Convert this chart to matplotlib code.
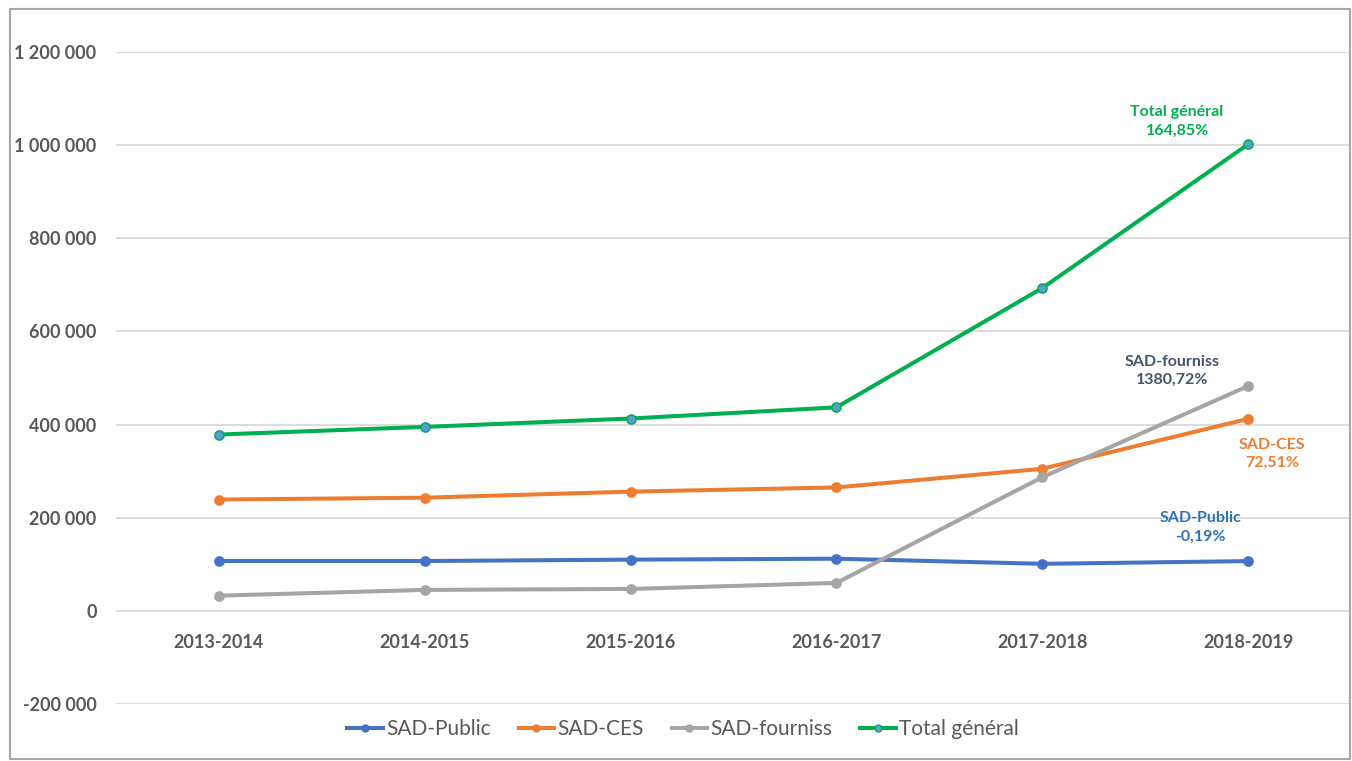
import matplotlib
matplotlib.use("Agg")
import matplotlib.pyplot as plt
from matplotlib.ticker import FuncFormatter, MultipleLocator
from matplotlib.patches import Rectangle
from matplotlib.lines import Line2D

# données
annees = ["2013-2014", "2014-2015", "2015-2016", "2016-2017", "2017-2018", "2018-2019"]
sad_public = [107000, 107000, 110000, 112000, 101000, 106800]
sad_ces = [239000, 243000, 256000, 265000, 305000, 412300]
sad_fourniss = [32600, 45000, 47000, 60000, 287000, 482700]
total_general = [378600, 395000, 413000, 437000, 693000, 1001800]

series = [
    ("SAD-Public", sad_public, "#4472C4", "#4472C4"),
    ("SAD-CES", sad_ces, "#ED7D31", "#ED7D31"),
    ("SAD-fourniss", sad_fourniss, "#A5A5A5", "#A5A5A5"),
    ("Total général", total_general, "#00B050", "#5B9BD5"),
]

# étiquettes de fin de série : texte, couleur, décalage (px)
etiquettes = {
    "Total général": ("Total général\n164,85%", "#00B050", (-71, 23)),
    "SAD-fourniss": ("SAD-fourniss\n1380,72%", "#44546A", (-76, 15)),
    "SAD-CES": ("SAD-CES\n72,51%", "#ED7D31", (24, -35)),
    "SAD-Public": ("SAD-Public\n-0,19%", "#2E75B6", (-48, 34)),
}

plt.rcParams["font.family"] = ["Lato", "DejaVu Sans"]
TXT = "#595959"

W, H = 1352, 761
fig = plt.figure(figsize=(W / 100, H / 100), dpi=100)
ax = fig.add_axes([116 / W, 1 - 704 / H, 1235 / W, (704 - 52) / H])

x = list(range(len(annees)))
handles = []
for name, vals, col, face in series:
    ax.plot(x, vals, color=col, linewidth=2.9, marker="o", markersize=6.5,
            markerfacecolor=face, markeredgecolor=col, markeredgewidth=1.2,
            zorder=3, solid_capstyle="round")
    handles.append(Line2D([], [], color=col, linewidth=2.9, marker="o", markersize=5,
                          markerfacecolor=face, markeredgecolor=col, markeredgewidth=1))
    txt, tcol, (dx, dy) = etiquettes[name]
    ax.annotate(txt, (x[-1], vals[-1]), xytext=(dx, dy), textcoords="offset pixels",
                ha="center", va="center", color=tcol, fontsize=11.5,
                fontweight="bold", linespacing=1.4, zorder=4)

ax.set_xlim(-0.5, len(annees) - 0.5)
ax.set_ylim(-200000, 1200000)
ax.yaxis.set_major_locator(MultipleLocator(200000))
ax.yaxis.set_major_formatter(FuncFormatter(lambda v, p: f"{int(v):,}".replace(",", " ")))
ax.grid(axis="y", color="#D9D9D9", linewidth=1.3, zorder=0)
ax.set_axisbelow(True)

ax.set_xticks(x)
ax.set_xticklabels(annees)
ax.spines["bottom"].set_position(("data", 0))
for s in ax.spines.values():
    s.set_visible(False)
ax.tick_params(axis="x", length=0, pad=17, labelsize=13, labelcolor=TXT)
ax.tick_params(axis="y", length=0, pad=14, labelsize=13, labelcolor=TXT)
for lab in ax.get_xticklabels() + ax.get_yticklabels():
    lab.set_fontweight("bold")

leg = fig.legend(handles, [s[0] for s in series], loc="center", ncol=4,
                 bbox_to_anchor=(683 / W, 1 - 729 / H), frameon=False,
                 fontsize=15, handlelength=1.7, handletextpad=0.15,
                 columnspacing=1.35)
for t in leg.get_texts():
    t.set_color(TXT)

# cadre du graphique
fig.patches.append(Rectangle((10 / W, 1 - 759 / H), 1340 / W, 750 / H,
                             transform=fig.transFigure, fill=False,
                             edgecolor="#A6A6A6", linewidth=1.5, zorder=10))

fig.savefig("out.png", dpi=100)
